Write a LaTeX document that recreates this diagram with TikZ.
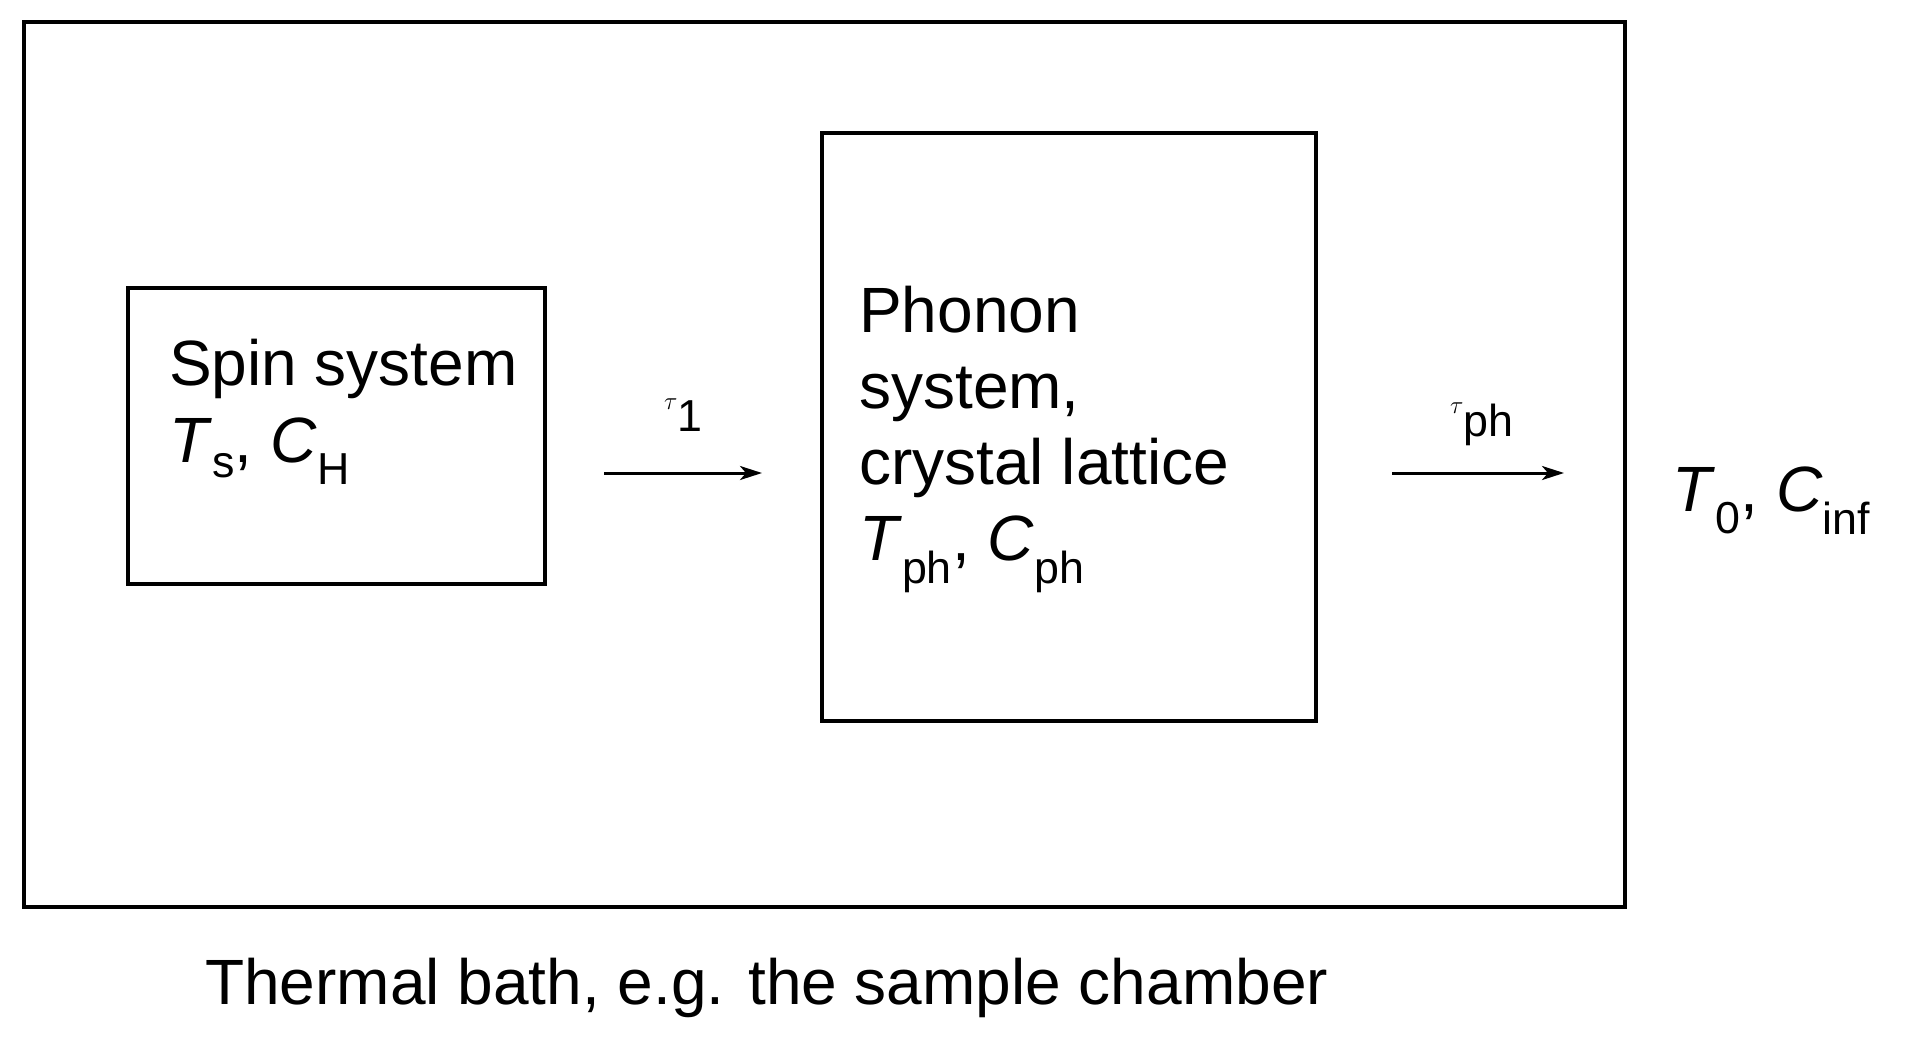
\documentclass[tikz,border=0pt]{standalone}
\usepackage{fontspec}
\setmainfont{Liberation Sans}
\begin{document}
\begin{tikzpicture}[x=1pt,y=-1pt,
  box/.style={draw,line width=3.5pt},
  lbl/.style={anchor=base west,inner sep=0pt,font=\fontsize{64}{76}\selectfont,align=left},
  arr/.style={line width=3pt,-{Stealth[length=22pt,width=14pt,inset=6pt]}}]
\useasboundingbox (0,0) rectangle (1906,1037);
\usetikzlibrary{arrows.meta}
\draw[box] (24,22) rectangle (1625,907);
\draw[box] (128,288) rectangle (545,584);
\draw[box] (822,133) rectangle (1316,721);
\coordinate (a1s) at (604,473); \coordinate (a1e) at (762,473);
\coordinate (a2s) at (1392,473); \coordinate (a2e) at (1564,473);
\draw[arr] (a1s) -- (a1e);
\draw[arr] (a2s) -- (a2e);
\node[lbl] (t1) at (664,409) {$\tau$\textsubscript{1}};
\node[lbl] (tph) at (1450,413) {$\tau$\textsubscript{ph}};
\node[lbl] (spin) at (169,385) {Spin system};
\node[lbl] (ts) at (169,462) {\textit{T}\textsubscript{s}, \textit{C}\textsubscript{H}};
\node[lbl] (ph1) at (859,332) {Phonon};
\node[lbl] (ph2) at (859,408) {system,};
\node[lbl] (ph3) at (859,484) {crystal lattice};
\node[lbl] (ph4) at (859,560) {\textit{T}\textsubscript{ph}, \textit{C}\textsubscript{ph}};
\node[lbl] (t0) at (1672,511) {\textit{T}\textsubscript{0}, \textit{C}\textsubscript{inf}};
\node[lbl] (bath) at (205,1004) {Thermal bath, e.g. the sample chamber};
\end{tikzpicture}
\end{document}
